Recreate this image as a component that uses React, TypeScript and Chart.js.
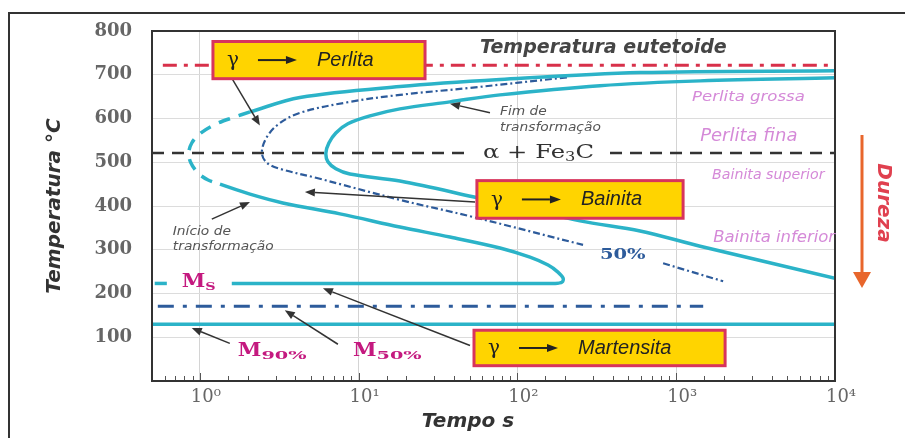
import React, { useEffect, useRef } from "react";
import { Chart, registerables } from "chart.js";

Chart.register(...registerables);

// ---------- axes ----------
const timeMin = 0.5;
const timeMax = 10000;
const tempMin = 0;
const tempMax = 800;
const tempStep = 100;
const decadeLabels = ["10\u2070", "10\u00B9", "10\u00B2", "10\u00B3", "10\u2074"];

// ---------- transformation curves (time s, temperature °C) ----------
const startUpperTime = [2.07, 4.27, 18.2, 77.7, 592, 10000];
const startUpperTemp = [615, 648, 673, 689, 705, 709];

const startNoseTime = [2.07, 1.61, 1.24, 1.0, 0.89, 0.852, 0.878, 0.971, 1.12, 1.34];
const startNoseTemp = [615, 602, 586, 565, 544, 521, 499, 476, 460, 450];

const startLowerTime = [1.34, 2.07, 3.33, 7.63, 18.2, 37.6, 77.7, 120, 156, 180, 194, 191, 173, 104, 1.59];
const startLowerTemp = [450, 427, 407, 382, 352, 329, 304, 283, 265, 249, 235, 226, 223, 223, 223];

const finishTime = [10000, 1415, 331, 77.7, 37.6, 18.2, 11.8, 8.56, 7.19, 6.5, 6.22,
  6.41, 7.19, 8.81, 18.2, 52.5, 248, 592, 1415, 10000];
const finishTemp = [693, 686, 675, 654, 638, 622, 606, 588, 567, 544, 521,
  501, 485, 473, 457, 421, 366, 343, 308, 235];

const fiftyTime = [205, 50.3, 18.2, 8.81, 4.27, 3.1, 2.61, 2.46, 2.64, 3.19, 5.46, 18.2, 52.5, 259];
const fiftyTemp = [694, 670, 654, 638, 613, 586, 554, 521, 499, 485, 464, 414, 375, 311];
const fiftyTailTime = [827, 1975];
const fiftyTailTemp = [269, 228];

// ---------- horizontal reference lines ----------
const eutectoidTemp = 722;
const eutectoidTime = [0.585, 10000];
const alphaFeTemp = 521;
const alphaFeLeftTime = [0.5, 50.3];
const alphaFeRightTime = [383, 10000];
const msTemp = 223;
const msLeftTime = [0.52, 0.62];
const m50Temp = 171;
const m50Time = [0.544, 1479];
const m90Temp = 130;
const m90Time = [0.5, 10000];

// ---------- annotation boxes ----------
const boxLabels = ["Perlita", "Bainita", "Martensita"];
const boxTimeLeft = [1.21, 55.6, 53.3];
const boxTimeRight = [26.2, 1105, 2032];
const boxTempTop = [776, 458, 116];
const boxTempBottom = [691, 372, 35];

// ---------- pointer arrows (tail -> head) ----------
const arrowFromTime = [1.61, 67.2, 1.19, 54.1, 50.3, 7.41, 1.545];
const arrowFromTemp = [689, 613, 370, 409, 81, 84, 86];
const arrowToTime = [2.39, 37.6, 2.07, 4.59, 5.96, 3.43, 0.89];
const arrowToTemp = [584, 634, 409, 432, 212, 162, 121];

// ---------- text labels ----------
const noteTexts = ["Temperatura eutetoide", "Fim de", "transformação", "Início de", "transformação",
  "Perlita grossa", "Perlita fina", "Bainita superior", "Bainita inferior", "50%"];
const noteTime = [58.1, 77.7, 77.7, 0.676, 0.676, 1259, 1415, 1683, 1709, 331];
const noteTemp = [762, 616, 579, 340, 306, 648, 558, 470, 327, 288];
const martensiteMarks = ["S", "90%", "50%"];
const martensiteMarkTime = [0.77, 1.736, 9.21];
const martensiteMarkTemp = [226, 68, 68];
const phaseLabelTime = 60.7;
const phaseLabelTemp = 521.5;

const CYAN = "#2bb3c8";
const NAVY = "#2d5b9b";

const pts = (ts: number[], Ts: number[]) => ts.map((t, i) => ({ x: t, y: Ts[i] }));
const hline = (T: number, ts: number[]) => ts.map((t) => ({ x: t, y: T }));
const isDecade = (v: number) => Math.abs(Math.log10(v) - Math.round(Math.log10(v))) < 1e-6;

function drawText(ctx: CanvasRenderingContext2D, text: string, x: number, y: number, font: string,
  color: string, sx = 1, align: CanvasTextAlign = "left", baseline: CanvasTextBaseline = "middle") {
  ctx.save();
  ctx.translate(x, y);
  ctx.scale(sx, 1);
  ctx.font = font;
  ctx.fillStyle = color;
  ctx.textAlign = align;
  ctx.textBaseline = baseline;
  ctx.fillText(text, 0, 0);
  ctx.restore();
}

function drawArrow(ctx: CanvasRenderingContext2D, x1: number, y1: number, x2: number, y2: number,
  color: string, width: number, headLen: number, headW: number) {
  const a = Math.atan2(y2 - y1, x2 - x1);
  const bx = x2 - headLen * Math.cos(a);
  const by = y2 - headLen * Math.sin(a);
  ctx.save();
  ctx.strokeStyle = color;
  ctx.fillStyle = color;
  ctx.lineWidth = width;
  ctx.beginPath();
  ctx.moveTo(x1, y1);
  ctx.lineTo(bx, by);
  ctx.stroke();
  ctx.beginPath();
  ctx.moveTo(x2, y2);
  ctx.lineTo(bx + headW * Math.sin(a), by - headW * Math.cos(a));
  ctx.lineTo(bx - headW * Math.sin(a), by + headW * Math.cos(a));
  ctx.closePath();
  ctx.fill();
  ctx.restore();
}

const overlayPlugin = {
  id: "tttOverlay",
  afterDatasetsDraw(chart: any) {
    const { ctx, chartArea } = chart;
    const xs = chart.scales.x;
    const ys = chart.scales.y;
    const X = (t: number) => xs.getPixelForValue(t);
    const Y = (T: number) => ys.getPixelForValue(T);
    ctx.save();

    // minor ticks on time axis
    ctx.strokeStyle = "#555";
    ctx.lineWidth = 1;
    xs.ticks.forEach((tk: any) => {
      const x = Math.round(X(tk.value)) + 0.5;
      ctx.beginPath();
      ctx.moveTo(x, chartArea.bottom);
      ctx.lineTo(x, chartArea.bottom - (isDecade(tk.value) ? 8 : 5));
      ctx.stroke();
    });

    // plot frame
    ctx.strokeStyle = "#333";
    ctx.lineWidth = 2;
    ctx.strokeRect(chartArea.left, chartArea.top, chartArea.right - chartArea.left, chartArea.bottom - chartArea.top);

    // outer picture frame
    ctx.beginPath();
    ctx.moveTo(9, 438);
    ctx.lineTo(9, 13);
    ctx.lineTo(905, 13);
    ctx.stroke();

    // pointer arrows
    arrowFromTime.forEach((t, i) => {
      drawArrow(ctx, X(t), Y(arrowFromTemp[i]), X(arrowToTime[i]), Y(arrowToTemp[i]), "#333", 1.5, 10, 4);
    });

    // boxes γ -> phase
    boxLabels.forEach((lab, i) => {
      const l = X(boxTimeLeft[i]);
      const r = X(boxTimeRight[i]);
      const t = Y(boxTempTop[i]);
      const b = Y(boxTempBottom[i]);
      const cy = (t + b) / 2;
      ctx.fillStyle = "#ffd400";
      ctx.fillRect(l, t, r - l, b - t);
      ctx.strokeStyle = "#d8345c";
      ctx.lineWidth = 3;
      ctx.strokeRect(l, t, r - l, b - t);
      drawText(ctx, "\u03B3", l + 14, cy + 1, "20px 'DejaVu Serif'", "#222");
      drawArrow(ctx, l + 45, cy, l + 84, cy, "#222", 2, 11, 4);
      drawText(ctx, lab, l + 104, cy, "italic 20px 'Liberation Sans'", "#222");
    });

    // notes
    const noteStyles = [
      { font: "bold italic 19px 'DejaVu Sans'", color: "#454545", sx: 1 },
      { font: "italic 12px 'DejaVu Sans'", color: "#555", sx: 1.15 },
      { font: "italic 12px 'DejaVu Sans'", color: "#555", sx: 1.15 },
      { font: "italic 12px 'DejaVu Sans'", color: "#555", sx: 1.15 },
      { font: "italic 12px 'DejaVu Sans'", color: "#555", sx: 1.15 },
      { font: "italic 14px 'DejaVu Sans'", color: "#d58ad8", sx: 1.18 },
      { font: "italic 17px 'DejaVu Sans'", color: "#d58ad8", sx: 1.06 },
      { font: "italic 13.5px 'DejaVu Sans'", color: "#d58ad8", sx: 1.05 },
      { font: "italic 16px 'DejaVu Sans'", color: "#d58ad8", sx: 1.03 },
      { font: "bold 15px 'DejaVu Serif'", color: NAVY, sx: 1.3 },
    ];
    noteTexts.forEach((txt, i) => {
      const s = noteStyles[i];
      drawText(ctx, txt, X(noteTime[i]), Y(noteTemp[i]), s.font, s.color, s.sx);
    });

    // α + Fe3C
    {
      const x0 = X(phaseLabelTime);
      const y0 = Y(phaseLabelTemp);
      const sx = 1.35;
      const big = "18px 'DejaVu Serif'";
      const small = "12px 'DejaVu Serif'";
      ctx.font = big;
      const w1 = ctx.measureText("\u03B1 + Fe").width * sx;
      ctx.font = small;
      const w2 = ctx.measureText("3").width * sx;
      drawText(ctx, "\u03B1 + Fe", x0, y0, big, "#333", sx);
      drawText(ctx, "3", x0 + w1, y0 + 5, small, "#333", sx);
      drawText(ctx, "C", x0 + w1 + w2, y0, big, "#333", sx);
    }

    // M_s, M_90%, M_50%
    martensiteMarks.forEach((sub, i) => {
      const x0 = X(martensiteMarkTime[i]);
      const y0 = Y(martensiteMarkTemp[i]);
      const mFont = "bold 19px 'DejaVu Serif'";
      const sFont = "bold 11px 'DejaVu Serif'";
      const mSx = 1.12;
      const sSx = i === 0 ? 1.3 : 1.75;
      ctx.font = mFont;
      const wm = ctx.measureText("M").width * mSx;
      drawText(ctx, "M", x0, y0, mFont, "#c4197f", mSx);
      drawText(ctx, sub, x0 + wm, y0 + 5, sFont, "#c4197f", sSx);
    });

    // x-axis title
    drawText(ctx, "Tempo s", 468, 422, "bold italic 20px 'DejaVu Sans'", "#333", 1, "center");

    // Dureza arrow + text
    ctx.strokeStyle = "#e8662c";
    ctx.lineWidth = 3;
    ctx.beginPath();
    ctx.moveTo(862, 135);
    ctx.lineTo(862, 274);
    ctx.stroke();
    ctx.fillStyle = "#e8662c";
    ctx.beginPath();
    ctx.moveTo(862, 288);
    ctx.lineTo(853, 272);
    ctx.lineTo(871, 272);
    ctx.closePath();
    ctx.fill();
    ctx.save();
    ctx.translate(883, 203);
    ctx.rotate(Math.PI / 2);
    ctx.font = "bold italic 20px 'DejaVu Sans'";
    ctx.fillStyle = "#e0404f";
    ctx.textAlign = "center";
    ctx.textBaseline = "middle";
    ctx.fillText("Dureza", 0, 0);
    ctx.restore();

    ctx.restore();
  },
};

export default function App() {
  const canvasRef = useRef<HTMLCanvasElement | null>(null);

  useEffect(() => {
    document.body.style.margin = "0";
    const canvas = canvasRef.current;
    if (!canvas) return;

    const cyanLine = (data: any[], dash: number[] = []) => ({
      data, borderColor: CYAN, borderWidth: 3.5, borderDash: dash, showLine: true,
      pointRadius: 0, tension: 0.35, fill: false,
    });

    const chart = new Chart(canvas, {
      type: "scatter",
      data: {
        datasets: [
          cyanLine(pts(startUpperTime, startUpperTemp)),
          cyanLine(pts(startNoseTime, startNoseTemp), [12, 9]),
          cyanLine(pts(startLowerTime, startLowerTemp)),
          cyanLine(pts(finishTime, finishTemp)),
          { data: pts(fiftyTime, fiftyTemp), borderColor: NAVY, borderWidth: 2.2, borderDash: [7, 3, 2, 3],
            showLine: true, pointRadius: 0, tension: 0.35, fill: false },
          { data: pts(fiftyTailTime, fiftyTailTemp), borderColor: NAVY, borderWidth: 2.2, borderDash: [7, 3, 2, 3],
            showLine: true, pointRadius: 0, tension: 0, fill: false },
          { data: hline(eutectoidTemp, eutectoidTime), borderColor: "#d8304a", borderWidth: 3, borderDash: [14, 7, 4, 7],
            showLine: true, pointRadius: 0, fill: false },
          { data: hline(alphaFeTemp, alphaFeLeftTime), borderColor: "#333", borderWidth: 2.5, borderDash: [12, 8],
            showLine: true, pointRadius: 0, fill: false },
          { data: hline(alphaFeTemp, alphaFeRightTime), borderColor: "#333", borderWidth: 2.5, borderDash: [12, 8],
            showLine: true, pointRadius: 0, fill: false },
          cyanLine(hline(msTemp, msLeftTime)),
          { data: hline(m50Temp, m50Time), borderColor: NAVY, borderWidth: 3, borderDash: [16, 9, 4, 9],
            showLine: true, pointRadius: 0, fill: false },
          cyanLine(hline(m90Temp, m90Time)),
        ],
      },
      options: {
        responsive: false,
        animation: false,
        events: [],
        layout: { padding: { left: 0, right: 70, top: 31, bottom: 0 } },
        plugins: { legend: { display: false }, tooltip: { enabled: false } },
        scales: {
          x: {
            type: "logarithmic",
            min: timeMin,
            max: timeMax,
            afterFit: (s: any) => { s.height = 57; },
            border: { display: true, color: "#333", width: 2 },
            grid: {
              drawTicks: false,
              color: (c: any) => (c.tick && isDecade(c.tick.value) ? "#d4d4d4" : "rgba(0,0,0,0)"),
              lineWidth: 1,
            },
            ticks: {
              autoSkip: false,
              maxRotation: 0,
              padding: 6,
              labelOffset: 6,
              color: "#666",
              font: { family: "'DejaVu Serif'", size: 18 },
              callback: (v: any) => {
                const n = Number(v);
                if (!isDecade(n)) return "";
                const e = Math.round(Math.log10(n));
                return decadeLabels[e] ?? "";
              },
            },
          },
          y: {
            type: "linear",
            min: tempMin,
            max: tempMax,
            afterFit: (s: any) => { s.width = 152; },
            border: { display: true, color: "#333", width: 2 },
            grid: { drawTicks: false, color: "#dcdcdc", lineWidth: 1 },
            title: {
              display: true,
              text: "Temperatura °C",
              color: "#333",
              font: { family: "'DejaVu Sans'", size: 20, weight: "bold", style: "italic" },
              padding: { top: 43, bottom: 0 },
            },
            ticks: {
              stepSize: tempStep,
              padding: 20,
              color: "#666",
              font: { family: "'DejaVu Serif'", size: 18, weight: "bold" },
              callback: (v: any) => (Number(v) === 0 ? "" : String(v)),
            },
          },
        },
      },
      plugins: [overlayPlugin],
    } as any);

    return () => chart.destroy();
  }, []);

  return (
    <div style={{ width: 905, height: 438, background: "#fff" }}>
      <canvas ref={canvasRef} width={905} height={438} style={{ display: "block" }} />
    </div>
  );
}
